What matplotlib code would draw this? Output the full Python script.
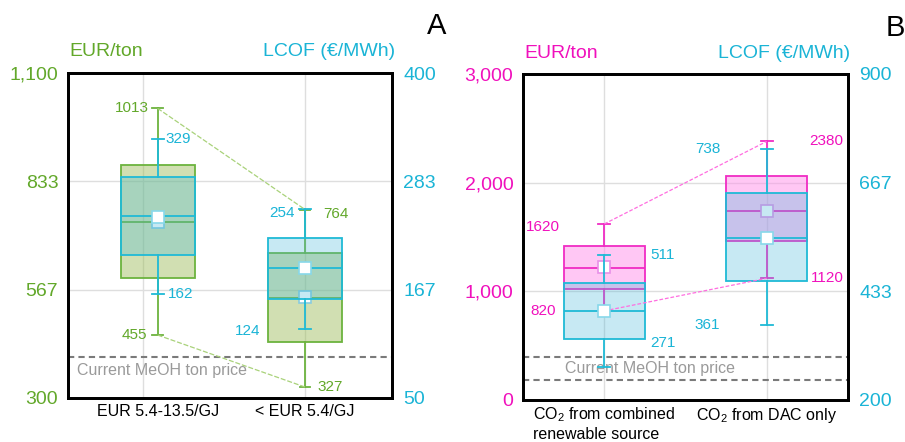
import matplotlib.pyplot as plt
from matplotlib.ticker import StrMethodFormatter

plt.rcParams["font.family"] = ["Liberation Sans", "DejaVu Sans"]
plt.rcParams["mathtext.fontset"] = "custom"
plt.rcParams["mathtext.rm"] = "Liberation Sans"
plt.rcParams["mathtext.it"] = "Liberation Sans:italic"

W, H = 905, 442

GREEN = "#6cb33e"
GREEN_TXT = "#62a82a"
CYAN = "#1fbad6"
CYAN_TXT = "#1ab4d6"
MAGENTA = "#f02cc4"
MAGENTA_TXT = "#f010bc"
GREY = "#7a7a7a"

# --- panel A: methanol cost by electricity price ---
CATS_A = ["EUR 5.4-13.5/GJ", "< EUR 5.4/GJ"]
EUR_A_LO = [455, 327]
EUR_A_Q1 = [595, 437]
EUR_A_MED = [734, 545]
EUR_A_Q3 = [873, 656]
EUR_A_HI = [1013, 764]
EUR_A_MEAN = [734, 548]

LCOF_A_LO = [162, 124]
LCOF_A_Q1 = [204, 157]
LCOF_A_MED = [246, 190]
LCOF_A_Q3 = [288, 222]
LCOF_A_HI = [329, 254]
LCOF_A_MEAN = [245, 190]

EUR_A_TICKS = [300, 567, 833, 1100]
LCOF_A_TICKS = [50, 167, 283, 400]
PRICE_A = [400]

# --- panel B: methanol cost by CO2 source ---
CATS_B = ["CO$_2$ from combined\nrenewable source", "CO$_2$ from DAC only"]
EUR_B_LO = [820, 1120]
EUR_B_Q1 = [1019, 1463]
EUR_B_MED = [1218, 1742]
EUR_B_Q3 = [1417, 2061]
EUR_B_HI = [1620, 2380]
EUR_B_MEAN = [1220, 1742]

LCOF_B_LO = [271, 361]
LCOF_B_Q1 = [331, 455]
LCOF_B_MED = [391, 548]
LCOF_B_Q3 = [451, 644]
LCOF_B_HI = [511, 738]
LCOF_B_MEAN = [391, 548]

EUR_B_TICKS = [0, 1000, 2000, 3000]
LCOF_B_TICKS = [200, 433, 667, 900]
PRICE_B = [400, 180]


def box_stats(lo, q1, med, q3, hi, mean):
    return [dict(whislo=a, q1=b, med=c, q3=d, whishi=e, mean=f, fliers=[])
            for a, b, c, d, e, f in zip(lo, q1, med, q3, hi, mean)]


def draw_boxes(ax, stats, pos, width, cap, edge, fill, mean_face, mean_edge):
    lw = 1.3
    ax.bxp(stats, positions=pos, widths=width, capwidths=cap,
           patch_artist=True, showmeans=True, showfliers=False, manage_ticks=False,
           boxprops=dict(facecolor=fill, edgecolor=edge, linewidth=lw),
           medianprops=dict(color=edge, linewidth=lw),
           whiskerprops=dict(color=edge, linewidth=lw),
           capprops=dict(color=edge, linewidth=lw),
           meanprops=dict(marker="s", markersize=8.5, markerfacecolor=mean_face,
                          markeredgecolor=mean_edge, markeredgewidth=1.2))


def label(ax, x, y, text, dx, dy, color, ha):
    ax.annotate(text, (x, y), xytext=(dx, dy), textcoords="offset pixels",
                ha=ha, va="center", color=color, fontsize=11)


def style_axes(ax, ax2, eur_ticks, lcof_ticks, eur_color):
    ax.set_ylim(eur_ticks[0], eur_ticks[-1])
    ax.set_yticks(eur_ticks)
    ax.yaxis.set_major_formatter(StrMethodFormatter("{x:,.0f}"))
    ax2.set_ylim(lcof_ticks[0], lcof_ticks[-1])
    ax2.set_yticks(lcof_ticks)
    ax.tick_params(axis="y", length=0, pad=7, labelsize=14, labelcolor=eur_color)
    ax2.tick_params(axis="y", length=0, pad=8, labelsize=14, labelcolor=CYAN_TXT)
    ax.tick_params(axis="x", length=0, pad=4, labelsize=11.5)
    for t in ax.get_xticklabels():
        t.set_multialignment("left")
    for a in (ax, ax2):
        for sp in a.spines.values():
            sp.set_linewidth(2)
            sp.set_color("black")
    # horizontal grid at inner ticks only
    for v in eur_ticks[1:-1]:
        ax.axhline(v, color="#dedede", lw=1, zorder=0)


def add_px_axes(fig, left, top, right, bottom):
    return fig.add_axes([left / W, 1 - bottom / H, (right - left) / W, (bottom - top) / H])


fig = plt.figure(figsize=(W / 100, H / 100), dpi=100)

# ---------------- panel A ----------------
ax = add_px_axes(fig, 68, 73, 392, 398)
ax2 = ax.twinx()
pos_a = [0.09, 1.0]
ax.set_xlim(-0.463, 1.537)
for g in [0, 1]:
    ax.axvline(g, color="#dedede", lw=1, zorder=0)

for p in PRICE_A:
    ax.axhline(p, color=GREY, lw=1.5, dashes=(3, 2), zorder=1)
ax.text(-0.405, 368, "Current MeOH ton price", color="#9a9a9a", fontsize=11.5,
        ha="left", va="center")

draw_boxes(ax, box_stats(EUR_A_LO, EUR_A_Q1, EUR_A_MED, EUR_A_Q3, EUR_A_HI, EUR_A_MEAN),
           pos_a, 0.457, 0.065, GREEN, (0.62, 0.74, 0.36, 0.47), "white", "#88cce0")
draw_boxes(ax2, box_stats(LCOF_A_LO, LCOF_A_Q1, LCOF_A_MED, LCOF_A_Q3, LCOF_A_HI, LCOF_A_MEAN),
           pos_a, 0.457, 0.075, CYAN, (0.28, 0.72, 0.85, 0.3), "white", "#88d8ea")

# connectors between the green whisker ends
ax2.plot(pos_a, [EUR_A_HI[0], EUR_A_HI[1]], transform=ax.transData,
         color="#a9d27a", lw=0.9, dashes=(4, 1.5))
ax2.plot(pos_a, [EUR_A_LO[0], EUR_A_LO[1]], transform=ax.transData,
         color="#a9d27a", lw=0.9, dashes=(4, 1.5))

label(ax, pos_a[0], EUR_A_HI[0], "1013", -9, 0, GREEN_TXT, "right")
label(ax, pos_a[0], EUR_A_LO[0], "455", -10, 0, GREEN_TXT, "right")
label(ax, pos_a[1], EUR_A_HI[1], "764", 18, -4, GREEN_TXT, "left")
label(ax, pos_a[1], EUR_A_LO[1], "327", 12, 0, GREEN_TXT, "left")
label(ax2, pos_a[0], LCOF_A_HI[0], "329", 8, 0, CYAN_TXT, "left")
label(ax2, pos_a[0], LCOF_A_LO[0], "162", 10, 0, CYAN_TXT, "left")
label(ax2, pos_a[1], LCOF_A_HI[1], "254", -10, -4, CYAN_TXT, "right")
label(ax2, pos_a[1], LCOF_A_LO[1], "124", -45, -2, CYAN_TXT, "right")

ax.set_xticks(pos_a)
ax.set_xticklabels(CATS_A)
style_axes(ax, ax2, EUR_A_TICKS, LCOF_A_TICKS, GREEN_TXT)

fig.text(69 / W, 1 - 52 / H, "EUR/ton", color=GREEN_TXT, fontsize=14, ha="left", va="center")
fig.text(395 / W, 1 - 52 / H, "LCOF (€/MWh)", color=CYAN_TXT, fontsize=14, ha="right", va="center")
fig.text(437 / W, 1 - 26 / H, "A", color="black", fontsize=21, ha="center", va="center")

# ---------------- panel B ----------------
bx = add_px_axes(fig, 523, 74, 848, 400)
bx2 = bx.twinx()
pos_b = [0, 1]
bx.set_xlim(-0.5, 1.5)
for g in pos_b:
    bx.axvline(g, color="#dedede", lw=1, zorder=0)

for p in PRICE_B:
    bx.axhline(p, color=GREY, lw=1.5, dashes=(3, 2), zorder=1)
bx.text(-0.24, 290, "Current MeOH ton price", color="#9a9a9a", fontsize=11.5,
        ha="left", va="center")

draw_boxes(bx, box_stats(EUR_B_LO, EUR_B_Q1, EUR_B_MED, EUR_B_Q3, EUR_B_HI, EUR_B_MEAN),
           pos_b, 0.5, 0.075, MAGENTA, (1.0, 0.57, 0.92, 0.5), "white", "#e890e8")
draw_boxes(bx2, box_stats(LCOF_B_LO, LCOF_B_Q1, LCOF_B_MED, LCOF_B_Q3, LCOF_B_HI, LCOF_B_MEAN),
           pos_b, 0.5, 0.075, CYAN, (0.28, 0.72, 0.85, 0.3), "white", "#88d8ea")

bx2.plot(pos_b, [EUR_B_HI[0], EUR_B_HI[1]], transform=bx.transData,
         color="#ff6ee0", lw=0.9, dashes=(3, 1.5))
bx2.plot(pos_b, [EUR_B_LO[0], EUR_B_LO[1]], transform=bx.transData,
         color="#ff6ee0", lw=0.9, dashes=(3, 1.5))

label(bx, pos_b[0], EUR_B_HI[0], "1620", -44, -3, MAGENTA_TXT, "right")
label(bx, pos_b[0], EUR_B_LO[0], "820", -48, 0, MAGENTA_TXT, "right")
label(bx, pos_b[1], EUR_B_HI[1], "2380", 42, 0, MAGENTA_TXT, "left")
label(bx, pos_b[1], EUR_B_LO[1], "1120", 44, 0, MAGENTA_TXT, "left")
label(bx2, pos_b[0], LCOF_B_HI[0], "511", 46, 0, CYAN_TXT, "left")
label(bx2, pos_b[0], LCOF_B_LO[0], "271", 46, 24, CYAN_TXT, "left")
label(bx2, pos_b[1], LCOF_B_HI[1], "738", -46, 0, CYAN_TXT, "right")
label(bx2, pos_b[1], LCOF_B_LO[1], "361", -47, 0, CYAN_TXT, "right")

bx.set_xticks(pos_b)
bx.set_xticklabels(CATS_B)
style_axes(bx, bx2, EUR_B_TICKS, LCOF_B_TICKS, MAGENTA_TXT)

fig.text(524 / W, 1 - 53 / H, "EUR/ton", color=MAGENTA_TXT, fontsize=14, ha="left", va="center")
fig.text(850 / W, 1 - 53 / H, "LCOF (€/MWh)", color=CYAN_TXT, fontsize=14, ha="right", va="center")
fig.text(895 / W, 1 - 28 / H, "B", color="black", fontsize=21, ha="center", va="center")

fig.savefig("out.png", dpi=100)
